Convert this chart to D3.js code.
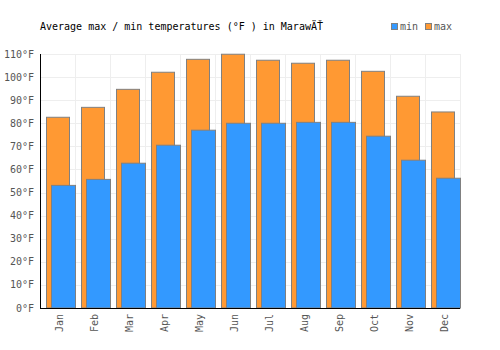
<!DOCTYPE html>
<html><head><meta charset="utf-8">
<script src="https://cdn.jsdelivr.net/npm/d3@7/dist/d3.min.js"></script>
<style>body{margin:0;background:#fff}svg{display:block}text{font-family:"DejaVu Sans Mono",monospace}</style>
</head><body><svg id="c" width="500" height="350"></svg>
<script>
const months = ["Jan","Feb","Mar","Apr","May","Jun","Jul","Aug","Sep","Oct","Nov","Dec"];
const maxTemps = [82.6, 86.9, 94.7, 102.1, 107.7, 109.9, 107.3, 106.0, 107.3, 102.5, 91.7, 84.9];
const minTemps = [53.1, 55.7, 62.7, 70.5, 77.0, 80.0, 80.0, 80.4, 80.4, 74.4, 64.0, 56.2];
const yTicks = [0,10,20,30,40,50,60,70,80,90,100,110];
const title = "Average max / min temperatures (°F ) in MarawÄŤ";

const svg = d3.select("#c");
const L = 40, R = 460, T = 54, B = 308;
const x = d3.scaleBand().domain(months).range([L, R]);
const y = d3.scaleLinear().domain([0, 110]).range([B, T]);
const bw = x.bandwidth();

// grid
svg.append("g").selectAll("line.h").data(yTicks).join("line")
  .attr("x1", L).attr("x2", R).attr("y1", d => Math.round(y(d)) + 0.5).attr("y2", d => Math.round(y(d)) + 0.5)
  .attr("stroke", "#eeeeee").attr("stroke-width", 1);
svg.append("g").selectAll("line.v").data(months.map((m,i)=>i+1)).join("line")
  .attr("x1", i => Math.round(L + i*bw) + 0.5).attr("x2", i => Math.round(L + i*bw) + 0.5)
  .attr("y1", T).attr("y2", B).attr("stroke", "#eeeeee").attr("stroke-width", 1);

// bars
svg.append("g").selectAll("rect").data(months).join("rect")
  .attr("x", d => x(d) + 6.5).attr("width", bw - 12)
  .attr("y", (d,i) => y(maxTemps[i])).attr("height", (d,i) => B - y(maxTemps[i]))
  .attr("fill", "#ff9933").attr("stroke", "#808080").attr("stroke-width", 1);
svg.append("g").selectAll("rect").data(months).join("rect")
  .attr("x", d => x(d) + 11.5).attr("width", bw - 11)
  .attr("y", (d,i) => y(minTemps[i])).attr("height", (d,i) => B - y(minTemps[i]))
  .attr("fill", "#3399ff").attr("stroke", "#808080").attr("stroke-width", 1);

// axes lines
svg.append("line").attr("x1", L + 0.5).attr("x2", L + 0.5).attr("y1", T).attr("y2", B + 0.5).attr("stroke", "#000");
svg.append("line").attr("x1", L).attr("x2", R).attr("y1", B + 0.5).attr("y2", B + 0.5).attr("stroke", "#000");

// y labels
svg.append("g").selectAll("text").data(yTicks).join("text")
  .attr("x", 34).attr("y", d => y(d) + 3.5).attr("text-anchor", "end")
  .attr("font-size", 10).attr("fill", "#555").text(d => d + "°F");

// x labels
svg.append("g").selectAll("text").data(months).join("text")
  .attr("transform", d => `translate(${x(d) + bw/2 + 5.5},314) rotate(-90)`)
  .attr("text-anchor", "end").attr("font-size", 10).attr("fill", "#555").text(d => d);

// title
svg.append("text").attr("x", 40).attr("y", 30).attr("font-size", 10).attr("fill", "#000").text(title);

// legend
const leg = [{k:"min", c:"#3399ff", x:392}, {k:"max", c:"#ff9933", x:426}];
const lg = svg.append("g").selectAll("g").data(leg).join("g");
lg.append("rect").attr("x", d => d.x - 0.5).attr("y", 23.5).attr("width", 6).attr("height", 6)
  .attr("fill", d => d.c).attr("stroke", "#808080").attr("stroke-width", 1);
lg.append("text").attr("x", d => d.x + 8).attr("y", 30).attr("font-size", 10).attr("fill", "#555").text(d => d.k);
</script></body></html>
